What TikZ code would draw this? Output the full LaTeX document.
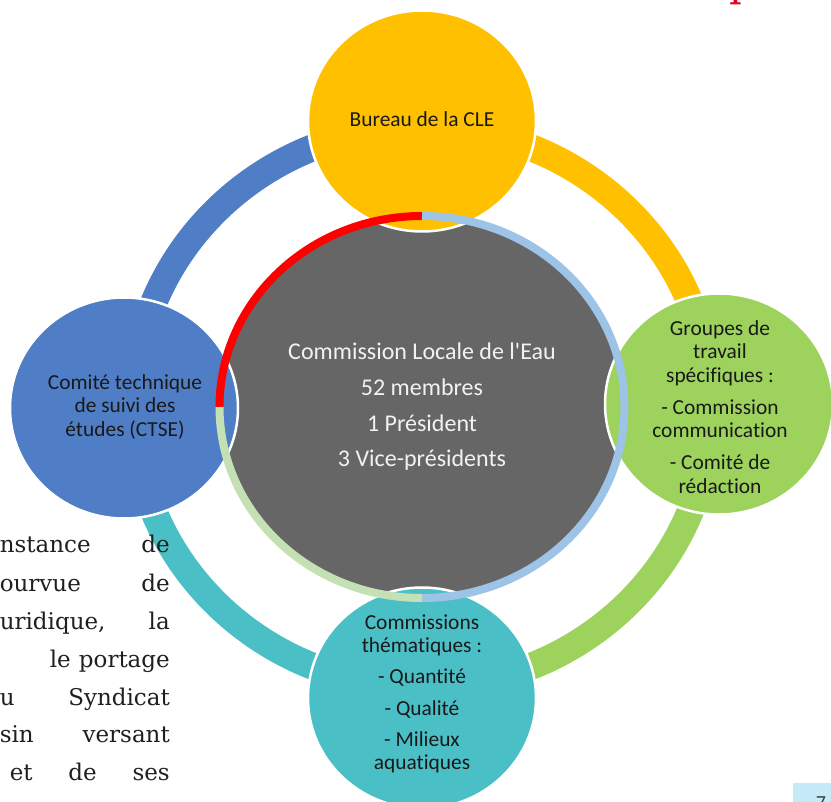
\documentclass[tikz,border=0pt]{standalone}
\usepackage{fontspec}
\setmainfont{Carlito}[Ligatures={TeXOff,NoCommon},RawFeature={-liga;-clig}]
\newfontfamily\slabfont{DejaVu Serif}
\usetikzlibrary{shapes.geometric}
\definecolor{cleblue}{RGB}{79,126,199}
\definecolor{cleyellow}{RGB}{255,192,0}
\definecolor{clegreen}{RGB}{157,211,92}
\definecolor{cleteal}{RGB}{75,191,198}
\definecolor{clegray}{RGB}{102,102,102}
\definecolor{ringred}{RGB}{255,0,0}
\definecolor{ringblue}{RGB}{157,195,230}
\definecolor{ringgreen}{RGB}{197,224,180}
\definecolor{pagecyan}{RGB}{198,234,248}
\definecolor{titlered}{RGB}{230,0,30}

\begin{document}
\begin{tikzpicture}[x=1pt,y=-1pt,
        sat/.style={ellipse,draw=white,line width=2.5pt,minimum width=228pt,minimum height=221pt,inner sep=0pt},
        sattext/.style={align=center,text=black!90,font=\fontsize{21.4}{23.5}\selectfont},
        outring/.style={line width=27pt},
        inring/.style={line width=8pt},
        bodytext/.style={inner sep=0pt,text=black!88,font=\slabfont\fontsize{23}{38}\selectfont},
    ]
    \useasboundingbox (0,0) rectangle (831,802);
    \clip (0,0) rectangle (831,802);
    \coordinate (c) at (422,407);
    % outer ring
    \coordinate (outL) at (133,407);
    \coordinate (outT) at (422,127);
    \coordinate (outR) at (711,407);
    \coordinate (outB) at (422,687);
    \draw[outring,cleblue] (outL) arc[start angle=180,end angle=90,x radius=289pt,y radius=280pt];
    \draw[outring,cleyellow] (outT) arc[start angle=90,end angle=0,x radius=289pt,y radius=280pt];
    \draw[outring,clegreen] (outR) arc[start angle=0,end angle=-90,x radius=289pt,y radius=280pt];
    \draw[outring,cleteal] (outB) arc[start angle=270,end angle=180,x radius=289pt,y radius=280pt];

    % centre
    \node[ellipse,fill=clegray,minimum width=402pt,minimum height=380pt,inner sep=0pt] (cle) at (c) {};

    % satellites
    \node[sat,fill=cleyellow] (bureau) at (422,121) {};
    \node[sat,fill=cleblue] (ctse) at (124,408) {};
    \node[sat,fill=clegreen] (groupes) at (719,404) {};
    \node[sat,fill=cleteal] (themes) at (422,698) {};

    % inner ring
    \coordinate (inL) at (219.5,407);
    \coordinate (inT) at (422,216);
    \coordinate (inB) at (422,598);
    \draw[inring,ringred] (inL) arc[start angle=180,end angle=90,x radius=202.5pt,y radius=191pt];
    \draw[inring,ringblue] (inT) arc[start angle=90,end angle=-90,x radius=202.5pt,y radius=191pt];
    \draw[inring,ringgreen] (inB) arc[start angle=270,end angle=180,x radius=202.5pt,y radius=191pt];

    % texts
    \node[align=center,text=white!95!black,font=\fontsize{24}{35.7}\selectfont] (cle-txt) at (c)
        {Commission Locale de l'Eau\\52 membres\\1 Président\\3 Vice-présidents};
    \node[sattext] (bureau-txt) at (422,119) {Bureau de la CLE};
    \node[sattext] (ctse-txt) at (125,407) {Comité technique\\de suivi des\\études (CTSE)};
    \node[sattext] (groupes-txt) at (720,407)
        {Groupes de\\travail\\spécifiques~:\\[8.5pt]- Commission\\communication\\[8.5pt]- Comité de\\rédaction};
    \node[sattext] (themes-txt) at (422,694)
        {Commissions\\thématiques~:\\[7pt]- Quantité\\[9pt]- Qualité\\[7pt]- Milieux\\aquatiques};

    % slide text behind
    \foreach \ln/\txt in {553/{nstance\hfill de},591/{ourvue\hfill de},629/{uridique,\hfill la},
        667/{\hspace*{50pt}le\hfill portage},705/{u\hfill Syndicat},742/{sin\hfill versant},
        780/{\hspace*{10pt}et\hfill de\hfill ses}}
        \node[bodytext,anchor=base east] (corps-\ln) at (170,\ln) {\hbox to 170pt{\txt}};
    \node[inner sep=0pt,text=titlered,font=\slabfont\fontsize{40}{40}\selectfont,anchor=base west] (titre) at (729,-3) {p};
    \fill[pagecyan] (793,783) rectangle (831,802);
    \node[inner sep=0pt,text=black!75,font=\fontsize{20}{20}\selectfont,anchor=north] (pagenum) at (821,796) {7};
\end{tikzpicture}
\end{document}
